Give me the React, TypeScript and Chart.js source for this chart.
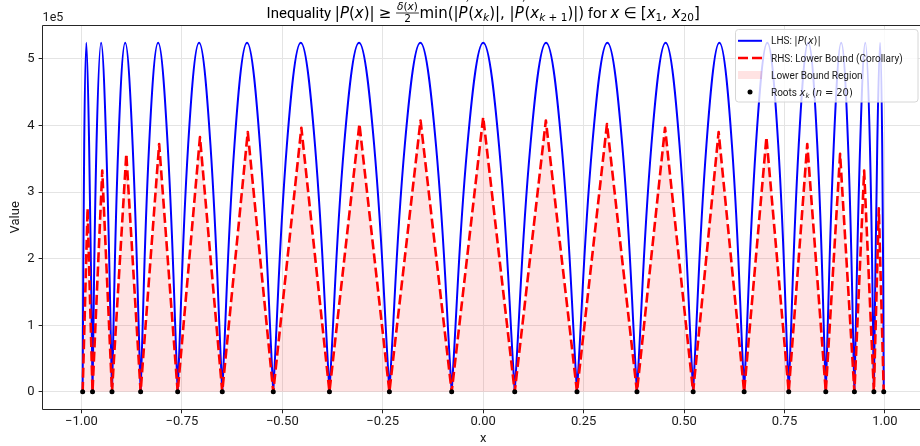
import React, { useEffect, useRef } from "react";
import { Chart, registerables } from "chart.js";

Chart.register(...registerables);

const FONT = "Roboto, 'Noto Sans', sans-serif";
const MATH = "'DejaVu Sans', sans-serif";

// Roots x_k (n = 20)
const roots = [
  -0.99692, -0.97237, -0.92388, -0.85264, -0.76041, -0.64945, -0.5225, -0.38268, -0.23345, -0.07846,
  0.07846, 0.23345, 0.38268, 0.5225, 0.64945, 0.76041, 0.85264, 0.92388, 0.97237, 0.99692,
];

// LHS |P(x)|: peak of each arch
const lhsPeakX = [
  -0.98769, -0.95106, -0.89101, -0.80902, -0.70711, -0.58779, -0.45399, -0.30902, -0.15643, 0,
  0.15643, 0.30902, 0.45399, 0.58779, 0.70711, 0.80902, 0.89101, 0.95106, 0.98769,
];
const lhsPeakY = [
  524300, 524300, 524300, 524300, 524300, 524300, 524300, 524300, 524300, 524300,
  524300, 524300, 524300, 524300, 524300, 524300, 524300, 524300, 524300,
];

// LHS |P(x)|: shoulder samples (two per arch)
const lhsShoulderX = [
  -0.99307, -0.98079, -0.96246, -0.93819, -0.90814, -0.8725, -0.83147, -0.78531, -0.73432, -0.6788,
  -0.61909, -0.55557, -0.48862, -0.41866, -0.34612, -0.27144, -0.19509, -0.11754, -0.03926, 0.03926,
  0.11754, 0.19509, 0.27144, 0.34612, 0.41866, 0.48862, 0.55557, 0.61909, 0.6788, 0.73432,
  0.78531, 0.83147, 0.8725, 0.90814, 0.93819, 0.96246, 0.98079, 0.99307,
];
const lhsShoulderY = [
  370700, 370700, 370700, 370700, 370700, 370700, 370700, 370700, 370700, 370700,
  370700, 370700, 370700, 370700, 370700, 370700, 370700, 370700, 370700, 370700,
  370700, 370700, 370700, 370700, 370700, 370700, 370700, 370700, 370700, 370700,
  370700, 370700, 370700, 370700, 370700, 370700, 370700, 370700,
];

// RHS lower bound: apex of each triangle
const rhsPeakX = [
  -0.98465, -0.94813, -0.88826, -0.80653, -0.70493, -0.58598, -0.45259, -0.30807, -0.15596, 0,
  0.15596, 0.30807, 0.45259, 0.58598, 0.70493, 0.80653, 0.88826, 0.94813, 0.98465,
];
const rhsPeakY = [
  275700, 332200, 357400, 372300, 382500, 390300, 396700, 402300, 407600, 412600,
  407600, 402300, 396700, 390300, 382500, 372300, 357400, 332200, 275700,
];

const xTicks = [-1, -0.75, -0.5, -0.25, 0, 0.25, 0.5, 0.75, 1];
const xTickLabels = ["\u22121.00", "\u22120.75", "\u22120.50", "\u22120.25", "0.00", "0.25", "0.50", "0.75", "1.00"];
const yTicks = [0, 100000, 200000, 300000, 400000, 500000];
const yTickLabels = ["0", "1", "2", "3", "4", "5"];
const xMin = -1.0966;
const xMax = 1.0966;
const yMin = -26200;
const yMax = 550500;

const legendLabels = ["LHS", "RHS: Lower Bound (Corollary)", "Lower Bound Region", "Roots"];

const W = 940;
const H = 446;
const AREA = { left: 42.6, top: 25.3, right: 923.8, bottom: 409.3 };

// m: math (DejaVu), it: italic, sub/sup, frac, sp: extra space in em
type Seg = { t?: string; m?: boolean; it?: boolean; sub?: boolean; sup?: boolean; sp?: number; frac?: [Seg[], Seg[]] };

function fnt(size: number, s: Seg) {
  return `${s.it ? "italic " : ""}${size}px ${s.m ? MATH : FONT}`;
}

function segSize(s: Seg, size: number) {
  return s.sub ? size * 0.7 : s.sup ? size * 0.7 : size;
}

function measureRich(ctx: CanvasRenderingContext2D, segs: Seg[], size: number): number {
  let w = 0;
  for (const s of segs) {
    if (s.sp) {
      w += s.sp * size;
    } else if (s.frac) {
      const fs = size * 0.7;
      const a = measureRich(ctx, s.frac[0], fs);
      const b = measureRich(ctx, s.frac[1], fs);
      w += Math.max(a, b) + 3;
    } else {
      ctx.font = fnt(segSize(s, size), s);
      const mw = ctx.measureText(s.t || "").width;
      w += s.sup ? mw * 0.3 : mw;
    }
  }
  return w;
}

function drawRich(ctx: CanvasRenderingContext2D, segs: Seg[], x: number, y: number, size: number) {
  let cx = x;
  for (const s of segs) {
    if (s.sp) {
      cx += s.sp * size;
    } else if (s.frac) {
      const fs = size * 0.7;
      const a = measureRich(ctx, s.frac[0], fs);
      const b = measureRich(ctx, s.frac[1], fs);
      const fw = Math.max(a, b) + 3;
      const barY = y - size * 0.3;
      drawRich(ctx, s.frac[0], cx + (fw - a) / 2, barY - size * 0.22, fs);
      drawRich(ctx, s.frac[1], cx + (fw - b) / 2, barY + size * 0.58, fs);
      ctx.save();
      ctx.strokeStyle = ctx.fillStyle as string;
      ctx.lineWidth = 0.8;
      ctx.beginPath();
      ctx.moveTo(cx + 0.5, barY);
      ctx.lineTo(cx + fw - 0.5, barY);
      ctx.stroke();
      ctx.restore();
      cx += fw;
    } else {
      ctx.font = fnt(segSize(s, size), s);
      const mw = ctx.measureText(s.t || "").width;
      let yy = y;
      let dx = 0;
      if (s.sub) yy = y + size * 0.2;
      if (s.sup) {
        yy = y - size * 0.62;
        dx = -mw * 0.55;
      }
      ctx.fillText(s.t || "", cx + dx, yy);
      cx += s.sup ? mw * 0.3 : mw;
    }
  }
}

const titleSegs: Seg[] = [
  { t: "Inequality " },
  { t: "|", m: true }, { t: "P", m: true, it: true }, { t: "(", m: true }, { t: "x", m: true, it: true }, { t: ")|", m: true },
  { sp: 0.28 }, { t: "\u2265", m: true }, { sp: 0.28 },
  { frac: [[{ t: "\u03b4", m: true, it: true }, { t: "(", m: true }, { t: "x", m: true, it: true }, { t: ")", m: true }], [{ t: "2", m: true }]] },
  { t: "min(|", m: true }, { t: "P", m: true, it: true }, { t: "\u2032", m: true, sup: true }, { t: "(", m: true },
  { t: "x", m: true, it: true }, { t: "k", m: true, it: true, sub: true }, { t: ")|, |", m: true },
  { t: "P", m: true, it: true }, { t: "\u2032", m: true, sup: true }, { t: "(", m: true }, { t: "x", m: true, it: true },
  { t: "k", m: true, it: true, sub: true }, { t: " + 1", m: true, sub: true }, { t: ")|)", m: true },
  { t: " for " }, { t: "x", m: true, it: true }, { sp: 0.28 }, { t: "\u2208", m: true }, { sp: 0.28 }, { t: "[", m: true },
  { t: "x", m: true, it: true }, { t: "1", m: true, sub: true }, { t: ", ", m: true }, { t: "x", m: true, it: true },
  { t: "20", m: true, sub: true }, { t: "]", m: true },
];

const legendSegs: Seg[][] = [
  [{ t: legendLabels[0] + ": " }, { t: "|", m: true }, { t: "P", m: true, it: true }, { t: "(", m: true }, { t: "x", m: true, it: true }, { t: ")|", m: true }],
  [{ t: legendLabels[1] }],
  [{ t: legendLabels[2] }],
  [
    { t: legendLabels[3] + " " }, { t: "x", m: true, it: true }, { t: "k", m: true, it: true, sub: true }, { t: " " },
    { t: "(", m: true }, { t: "n", m: true, it: true }, { sp: 0.28 }, { t: "=", m: true }, { sp: 0.28 }, { t: "20)", m: true },
  ],
];

const BLUE = "#0000ff";
const RED = "#ff0000";
const PINK = "rgba(255,0,0,0.11)";
const TXT = "#1a1a1a";

const decor = {
  id: "decor",
  afterDraw(chart: any) {
    const ctx: CanvasRenderingContext2D = chart.ctx;
    const a = chart.chartArea;
    ctx.save();
    // spines
    ctx.strokeStyle = "#262626";
    ctx.lineWidth = 1;
    const L = Math.floor(a.left) + 0.5;
    const T = Math.floor(a.top) + 0.5;
    const B = Math.floor(a.bottom) + 0.5;
    const R = Math.floor(a.right) + 0.5;
    ctx.beginPath();
    ctx.moveTo(L, B);
    ctx.lineTo(L, T);
    ctx.lineTo(R, T);
    ctx.lineTo(R, B);
    ctx.lineTo(L, B);
    ctx.stroke();

    ctx.fillStyle = TXT;
    ctx.textBaseline = "alphabetic";
    // offset text
    ctx.font = `12.5px ${FONT}`;
    ctx.textAlign = "left";
    ctx.fillText("1e5", a.left, 21.3);

    // axis titles
    ctx.font = `13px ${FONT}`;
    ctx.textAlign = "center";
    ctx.fillText("x", (a.left + a.right) / 2, 441.5);
    ctx.save();
    ctx.translate(18.5, (a.top + a.bottom) / 2);
    ctx.rotate(-Math.PI / 2);
    ctx.fillText("Value", 0, 0);
    ctx.restore();

    // title
    ctx.textAlign = "left";
    ctx.fillStyle = "#000";
    const tw = measureRich(ctx, titleSegs, 15);
    drawRich(ctx, titleSegs, (a.left + a.right) / 2 - tw / 2, 17.5, 15);

    // legend
    const lx = 735.5, ly = 29.5, lw = 182.5, lh = 72.5;
    ctx.beginPath();
    (ctx as any).roundRect(lx, ly, lw, lh, 3);
    ctx.fillStyle = "rgba(255,255,255,0.8)";
    ctx.fill();
    ctx.strokeStyle = "#d6d6d6";
    ctx.lineWidth = 1;
    ctx.stroke();

    const rows = [40.8, 58, 75, 92];
    const hx0 = 738, hx1 = 762;
    ctx.lineCap = "butt";
    // LHS handle
    ctx.strokeStyle = BLUE;
    ctx.lineWidth = 2;
    ctx.beginPath();
    ctx.moveTo(hx0, rows[0]);
    ctx.lineTo(hx1, rows[0]);
    ctx.stroke();
    // RHS handle
    ctx.strokeStyle = RED;
    ctx.lineWidth = 2.6;
    ctx.setLineDash([10, 4]);
    ctx.beginPath();
    ctx.moveTo(hx0, rows[1]);
    ctx.lineTo(hx1, rows[1]);
    ctx.stroke();
    ctx.setLineDash([]);
    // region patch
    ctx.fillStyle = PINK;
    ctx.fillRect(hx0, rows[2] - 4, hx1 - hx0, 8);
    // root dot
    ctx.fillStyle = "#000";
    ctx.beginPath();
    ctx.arc((hx0 + hx1) / 2, rows[3], 2.5, 0, Math.PI * 2);
    ctx.fill();

    ctx.fillStyle = TXT;
    for (let i = 0; i < rows.length; i++) {
      drawRich(ctx, legendSegs[i], 771, rows[i] + 3.6, 10);
    }
    ctx.restore();
  },
};

function buildLhs() {
  const pts: { x: number; y: number }[] = [];
  for (let i = 0; i < lhsPeakX.length; i++) {
    pts.push({ x: roots[i], y: 0 });
    pts.push({ x: lhsShoulderX[2 * i], y: lhsShoulderY[2 * i] });
    pts.push({ x: lhsPeakX[i], y: lhsPeakY[i] });
    pts.push({ x: lhsShoulderX[2 * i + 1], y: lhsShoulderY[2 * i + 1] });
    pts.push({ x: roots[i + 1], y: 0 });
  }
  return pts;
}

function buildRhs() {
  const pts: { x: number; y: number }[] = [{ x: roots[0], y: 0 }];
  for (let i = 0; i < rhsPeakX.length; i++) {
    pts.push({ x: rhsPeakX[i], y: rhsPeakY[i] });
    pts.push({ x: roots[i + 1], y: 0 });
  }
  return pts;
}

export default function App() {
  const ref = useRef<HTMLCanvasElement>(null);
  useEffect(() => {
    const canvas = ref.current!;
    const gridColor = "#e4e4e4";
    const chart = new Chart(canvas, {
      type: "line",
      data: {
        datasets: [
          {
            label: legendLabels[3],
            data: roots.map((x) => ({ x, y: 0 })),
            showLine: false,
            pointRadius: 2.5,
            pointBackgroundColor: "#000",
            pointBorderWidth: 0,
            borderColor: "#000",
          },
          {
            label: legendLabels[1],
            data: buildRhs(),
            borderColor: RED,
            borderWidth: 2.6,
            borderDash: [10, 4.2],
            borderJoinStyle: "round",
            pointRadius: 0,
            tension: 0,
            fill: "origin",
            backgroundColor: PINK,
          },
          {
            label: legendLabels[0],
            data: buildLhs(),
            borderColor: BLUE,
            borderWidth: 2,
            borderJoinStyle: "round",
            pointRadius: 0,
            tension: 0.4,
            fill: false,
          },
        ],
      } as any,
      options: {
        animation: false,
        responsive: false,
        maintainAspectRatio: false,
        events: [],
        layout: { padding: { top: AREA.top, right: W - AREA.right, left: 0, bottom: 0 } },
        plugins: { legend: { display: false }, tooltip: { enabled: false }, title: { display: false } },
        scales: {
          x: {
            type: "linear",
            min: xMin,
            max: xMax,
            afterBuildTicks: (s: any) => {
              s.ticks = xTicks.map((v) => ({ value: v }));
            },
            afterFit: (s: any) => {
              s.height = H - AREA.bottom;
            },
            ticks: {
              callback: (v: any) => xTickLabels[xTicks.indexOf(Number(v))],
              font: { family: FONT, size: 13 },
              color: TXT,
              padding: 1,
              maxRotation: 0,
              autoSkip: false,
            },
            grid: { color: gridColor, lineWidth: 1, tickColor: "#262626", tickLength: 4, drawTicks: true },
            border: { display: false },
          },
          y: {
            type: "linear",
            min: yMin,
            max: yMax,
            afterBuildTicks: (s: any) => {
              s.ticks = yTicks.map((v) => ({ value: v }));
            },
            afterFit: (s: any) => {
              s.width = AREA.left;
            },
            ticks: {
              callback: (v: any) => yTickLabels[yTicks.indexOf(Number(v))],
              font: { family: FONT, size: 13 },
              color: TXT,
              padding: 4,
            },
            grid: { color: gridColor, lineWidth: 1, tickColor: "#262626", tickLength: 4, drawTicks: true },
            border: { display: false },
          },
        },
      } as any,
      plugins: [decor],
    });
    return () => chart.destroy();
  }, []);
  return (
    <div style={{ position: "fixed", left: 0, top: 0, width: 920, height: H, overflow: "hidden", background: "#fff" }}>
      <canvas ref={ref} width={W} height={H} style={{ display: "block", width: W, height: H }} />
    </div>
  );
}
